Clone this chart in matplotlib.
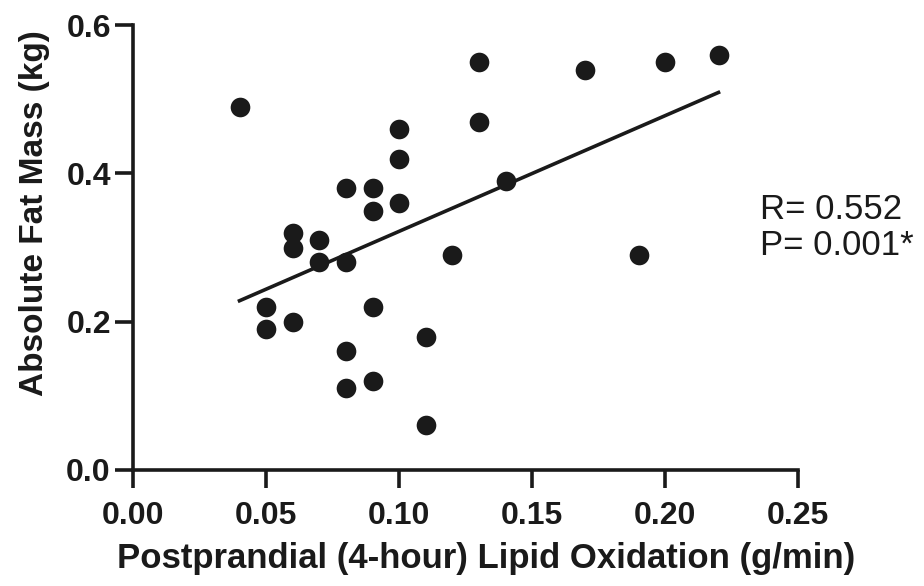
import matplotlib
matplotlib.use("Agg")
import matplotlib.pyplot as plt
import numpy as np

# datos
lipid_ox = [0.04, 0.05, 0.05, 0.06, 0.06, 0.06, 0.07, 0.07, 0.08, 0.08,
            0.08, 0.08, 0.09, 0.09, 0.09, 0.09, 0.10, 0.10, 0.10, 0.11,
            0.11, 0.12, 0.13, 0.13, 0.14, 0.17, 0.19, 0.20, 0.22]
fat_mass = [0.49, 0.22, 0.19, 0.32, 0.30, 0.20, 0.31, 0.28, 0.38, 0.28,
            0.16, 0.11, 0.38, 0.35, 0.22, 0.12, 0.46, 0.42, 0.36, 0.18,
            0.06, 0.29, 0.55, 0.47, 0.39, 0.54, 0.29, 0.55, 0.56]
x_ticks = [0.00, 0.05, 0.10, 0.15, 0.20, 0.25]
y_ticks = [0.0, 0.2, 0.4, 0.6]
stats_text = "R= 0.552\nP= 0.001*"

plt.rcParams["font.family"] = ["Liberation Sans", "DejaVu Sans"]
COLOR = "#1a1a1a"
LW = 2.6

fig = plt.figure(figsize=(9.24, 5.86), dpi=100)
ax = fig.add_axes([0.144, 0.198, 0.720, 0.759])

x = np.array(lipid_ox)
y = np.array(fat_mass)
ax.scatter(x, y, s=200, color=COLOR, zorder=3, clip_on=False, linewidths=0)

# recta de regresion
m, b = np.polyfit(x, y, 1)
xl = np.array([x.min(), x.max()])
ax.plot(xl, m * xl + b, color=COLOR, lw=LW, zorder=2)

ax.set_xlim(0, 0.25)
ax.set_ylim(0, 0.6)
ax.set_xticks(x_ticks)
ax.set_xticklabels([f"{v:.2f}" for v in x_ticks])
ax.set_yticks(y_ticks)
ax.set_yticklabels([f"{v:.1f}" for v in y_ticks])

for s in ["top", "right"]:
    ax.spines[s].set_visible(False)
for s in ["left", "bottom"]:
    ax.spines[s].set_linewidth(LW)
    ax.spines[s].set_color(COLOR)
    ax.spines[s].set_capstyle("projecting")
ax.tick_params(width=LW, length=13, color=COLOR, labelsize=23,
               labelcolor=COLOR)
ax.tick_params(axis="x", pad=9)
ax.tick_params(axis="y", pad=3)
for lbl in ax.get_xticklabels() + ax.get_yticklabels():
    lbl.set_fontweight("bold")

ax.set_xlabel("Postprandial (4-hour) Lipid Oxidation (g/min)", fontsize=25,
              fontweight="bold", color=COLOR)
ax.xaxis.set_label_coords(0.531, -0.162)
ax.set_ylabel("Absolute Fat Mass (kg)", fontsize=24, fontweight="bold",
              color=COLOR)
ax.yaxis.set_label_coords(-0.125, 0.578)

fig.text(0.822, 0.612, stats_text, fontsize=25, color=COLOR, va="center",
         ha="left", linespacing=1.12)

fig.savefig("out.png", dpi=100)
